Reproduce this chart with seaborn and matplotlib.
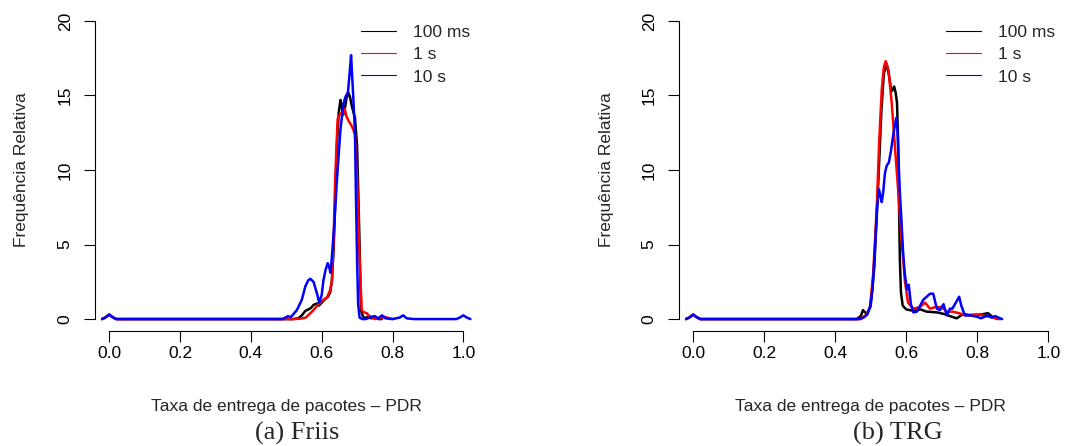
import matplotlib
matplotlib.use("Agg")
import matplotlib.pyplot as plt
from matplotlib.lines import Line2D
import numpy as np
import pandas as pd
import seaborn as sns

# ---- series labels and colours ----
series = ["100 ms", "1 s", "10 s"]
colors = ["#000000", "#FF0000", "#0000FF"]
xticks = [0.0, 0.2, 0.4, 0.6, 0.8, 1.0]
yticks = [0, 5, 10, 15, 20]
xlabel = "Taxa de entrega de pacotes \u2013 PDR"
ylabel = "Frequ\u00eancia Relativa"
captions = ["(a) Friis", "(b) TRG"]

# ---- (a) Friis : density of PDR ----
friis_100ms_x = [-0.02, -0.01, 0.0, 0.01, 0.02, 0.52, 0.534, 0.544, 0.554, 0.563, 0.570, 0.577,
                 0.587, 0.592, 0.600, 0.610, 0.618, 0.624, 0.629, 0.634, 0.639, 0.643, 0.648,
                 0.653, 0.657, 0.661, 0.666, 0.670, 0.675, 0.680, 0.686, 0.694, 0.700, 0.706,
                 0.711, 0.716, 0.722, 0.73, 0.74, 0.75, 0.76, 0.77]
friis_100ms_y = [0.0, 0.12, 0.3, 0.12, 0.0, 0.0, 0.05, 0.25, 0.55, 0.65, 0.75, 0.95,
                 1.05, 0.9, 1.1, 1.35, 1.5, 1.8, 2.6, 4.8, 8.5, 11.6, 13.8,
                 14.7, 14.2, 13.7, 14.2, 14.8, 15.2, 14.9, 14.2, 13.5, 11.6, 6.0,
                 0.6, 0.2, 0.05, 0.15, 0.05, 0.1, 0.0, 0.0]

friis_1s_x = [-0.02, -0.01, 0.0, 0.01, 0.02, 0.52, 0.54, 0.555, 0.568, 0.577, 0.587, 0.596,
              0.605, 0.615, 0.624, 0.629, 0.634, 0.638, 0.645, 0.652, 0.659, 0.665, 0.670,
              0.676, 0.686, 0.694, 0.700, 0.706, 0.713, 0.720, 0.727, 0.735, 0.75, 0.77,
              0.78, 0.79, 0.80]
friis_1s_y = [0.0, 0.12, 0.3, 0.12, 0.0, 0.0, 0.03, 0.1, 0.4, 0.6, 0.9, 1.1,
              1.3, 1.45, 1.95, 2.5, 5.5, 9.3, 13.4, 13.8, 13.7, 14.1, 13.6,
              13.3, 12.9, 12.4, 9.3, 4.8, 0.6, 0.45, 0.4, 0.2, 0.0, 0.1,
              0.15, 0.05, 0.0]

friis_10s_x = [-0.02, -0.01, 0.0, 0.01, 0.02, 0.49, 0.505, 0.512, 0.518, 0.53, 0.544, 0.554,
               0.562, 0.568, 0.577, 0.587, 0.593, 0.600, 0.605, 0.611, 0.617, 0.621, 0.625,
               0.629, 0.636, 0.643, 0.653, 0.661, 0.667, 0.674, 0.679, 0.683, 0.689, 0.694,
               0.697, 0.700, 0.703, 0.707, 0.715, 0.725, 0.74, 0.75, 0.76, 0.77, 0.78,
               0.80, 0.82, 0.83, 0.84, 0.86, 0.98, 0.99, 1.0, 1.01, 1.02]
friis_10s_y = [0.0, 0.12, 0.3, 0.12, 0.0, 0.0, 0.2, 0.12, 0.27, 0.6, 1.3, 2.2,
               2.6, 2.7, 2.5, 1.7, 1.1, 1.6, 2.6, 3.3, 3.75, 3.5, 3.1,
               4.2, 6.5, 9.3, 12.7, 14.4, 14.9, 15.2, 16.5, 17.7, 15.0, 12.5,
               8.0, 4.0, 1.0, 0.1, 0.0, 0.0, 0.15, 0.2, 0.05, 0.25, 0.05,
               0.0, 0.1, 0.25, 0.05, 0.0, 0.0, 0.1, 0.25, 0.1, 0.0]

# ---- (b) TRG : density of PDR ----
trg_100ms_x = [-0.02, -0.01, 0.0, 0.01, 0.02, 0.46, 0.472, 0.478, 0.484, 0.49, 0.50, 0.51,
               0.52, 0.53, 0.537, 0.545, 0.551, 0.556, 0.560, 0.566, 0.570, 0.574, 0.577,
               0.580, 0.582, 0.585, 0.590, 0.60, 0.61, 0.62, 0.64, 0.657, 0.686, 0.705,
               0.723, 0.742, 0.761, 0.78, 0.81, 0.83, 0.845, 0.86]
trg_100ms_y = [0.0, 0.12, 0.3, 0.12, 0.0, 0.0, 0.2, 0.6, 0.45, 0.35, 0.9, 3.5,
               8.5, 14.0, 16.5, 17.1, 16.4, 15.6, 15.3, 15.6, 15.2, 14.5, 12.0,
               7.0, 4.0, 1.8, 0.9, 0.65, 0.6, 0.55, 0.65, 0.5, 0.45, 0.35,
               0.2, 0.05, 0.35, 0.25, 0.3, 0.4, 0.1, 0.0]

trg_1s_x = [-0.02, -0.01, 0.0, 0.01, 0.02, 0.47, 0.488, 0.498, 0.507, 0.517, 0.524, 0.531,
            0.537, 0.542, 0.550, 0.559, 0.568, 0.577, 0.587, 0.596, 0.605, 0.62, 0.638,
            0.653, 0.667, 0.681, 0.70, 0.714, 0.73, 0.748, 0.767, 0.786, 0.805, 0.823,
            0.837, 0.852, 0.866]
trg_1s_y = [0.0, 0.12, 0.3, 0.12, 0.0, 0.0, 0.3, 0.8, 3.1, 7.5, 12.0, 15.4,
            16.9, 17.3, 16.7, 14.5, 11.6, 8.7, 5.3, 2.6, 1.1, 0.7, 0.8,
            1.1, 0.7, 0.8, 0.8, 0.5, 0.5, 0.4, 0.25, 0.3, 0.3, 0.2,
            0.15, 0.05, 0.0]

trg_10s_x = [-0.02, -0.01, 0.0, 0.01, 0.02, 0.47, 0.48, 0.49, 0.498, 0.505, 0.512, 0.518,
             0.523, 0.527, 0.531, 0.535, 0.540, 0.545, 0.551, 0.557, 0.563, 0.568, 0.572,
             0.575, 0.578, 0.582, 0.587, 0.591, 0.596, 0.602, 0.607, 0.613, 0.62, 0.63,
             0.648, 0.667, 0.676, 0.686, 0.695, 0.705, 0.714, 0.723, 0.73, 0.742, 0.749,
             0.755, 0.765, 0.78, 0.80, 0.81, 0.82, 0.83, 0.84, 0.85, 0.86, 0.87]
trg_10s_y = [0.0, 0.12, 0.3, 0.12, 0.0, 0.0, 0.1, 0.3, 0.8, 2.0, 4.8, 7.5,
             8.7, 8.3, 7.85, 8.5, 9.8, 10.3, 10.5, 11.3, 12.3, 13.0, 13.5,
             12.8, 10.9, 8.5, 6.4, 4.5, 3.0, 2.0, 2.3, 1.0, 0.45, 0.5,
             1.3, 1.7, 1.7, 0.7, 0.6, 1.0, 0.25, 0.7, 0.7, 1.2, 1.5,
             0.9, 0.25, 0.25, 0.15, 0.05, 0.15, 0.25, 0.1, 0.2, 0.1, 0.0]


def long_frame(xs, ys):
    parts = [pd.DataFrame({"pdr": x, "freq": y, "serie": s}) for x, y, s in zip(xs, ys, series)]
    return pd.concat(parts, ignore_index=True)


friis = long_frame([friis_100ms_x, friis_1s_x, friis_10s_x],
                   [friis_100ms_y, friis_1s_y, friis_10s_y])
trg = long_frame([trg_100ms_x, trg_1s_x, trg_10s_x],
                 [trg_100ms_y, trg_1s_y, trg_10s_y])

sns.set_theme(style="ticks")
plt.rcParams["font.family"] = ["Liberation Sans", "DejaVu Sans"]
plt.rcParams["axes.linewidth"] = 0.8

FS = 12.5
W, H = 1069, 446
fig = plt.figure(figsize=(W / 100, H / 100), dpi=100)
axes_px = [(95, 477.5), (679, 1062.5)]
legend_px = [(361, 24.5), (946, 24.5)]
caption_x = [297, 898]

palette = dict(zip(series, colors))

for i, (df, (x0, x1)) in enumerate(zip([friis, trg], axes_px)):
    ax = fig.add_axes([x0 / W, 115 / H, (x1 - x0) / W, (331 - 9) / H])
    sns.lineplot(data=df, x="pdr", y="freq", hue="serie", hue_order=series,
                 palette=palette, sort=False, estimator=None, linewidth=1.8,
                 legend=False, ax=ax)
    ax.set_xlim(-0.04, 1.04)
    ax.set_ylim(-0.8, 20.8)
    ax.set_xticks(xticks)
    ax.set_xticklabels([f"{t:.1f}" for t in xticks])
    ax.set_yticks(yticks)
    ax.set_yticklabels([str(t) for t in yticks])
    ax.set_xlabel("")
    ax.set_ylabel("")
    for side in ["top", "right"]:
        ax.spines[side].set_visible(False)
    ax.spines["left"].set_bounds(0, 20)
    ax.spines["bottom"].set_bounds(0, 1)
    for side in ["left", "bottom"]:
        ax.spines[side].set_color("black")
        ax.spines[side].set_linewidth(0.8)
    ax.tick_params(axis="both", direction="out", length=8, width=0.8,
                   colors="black", labelsize=FS)
    ax.tick_params(axis="x", pad=3)
    ax.tick_params(axis="y", pad=8, labelrotation=90)
    for lab in ax.get_yticklabels():
        lab.set_va("center")

    handles = [Line2D([], [], color=c, lw=0.8) for c in colors]
    lx, ly = legend_px[i]
    ax.legend(handles, series, loc="upper left",
              bbox_to_anchor=(lx / W, 1 - ly / H), bbox_transform=fig.transFigure,
              frameon=False, fontsize=FS, handlelength=2.0, handletextpad=1.0,
              labelspacing=0.42, borderpad=0, borderaxespad=0)

    cx = (x0 + x1) / 2
    fig.text(cx / W, 1 - 406 / H, xlabel, ha="center", va="center", fontsize=FS)
    fig.text((x0 - 73) / W, 1 - 170 / H, ylabel, ha="center", va="center",
             rotation=90, fontsize=FS)
    fig.text(caption_x[i] / W, 1 - 433 / H, captions[i], ha="center", va="center",
             fontsize=19, family=["Liberation Serif", "DejaVu Serif"])

fig.savefig("out.png", dpi=100)
